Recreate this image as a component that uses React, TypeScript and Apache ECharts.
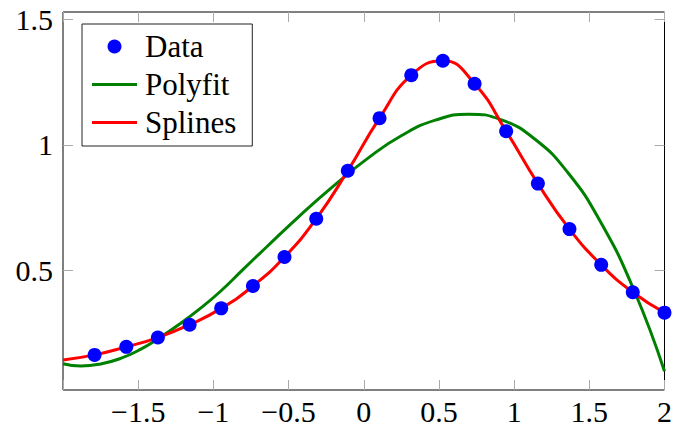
import React, { useEffect, useRef } from "react";
import * as echarts from "echarts";

const dataX = [-1.79, -1.579, -1.369, -1.158, -0.948, -0.737, -0.527, -0.316, -0.106, 0.105, 0.316, 0.526, 0.737, 0.947, 1.158, 1.368, 1.579, 1.789, 2.0];
const dataY = [0.165, 0.197, 0.234, 0.285, 0.35, 0.439, 0.554, 0.706, 0.897, 1.106, 1.277, 1.334, 1.243, 1.054, 0.846, 0.665, 0.523, 0.414, 0.333];

const splineX = [-2.0, -1.79, -1.579, -1.369, -1.158, -0.948, -0.737, -0.527, -0.316, -0.106, 0.105, 0.316, 0.526, 0.737, 0.947, 1.158, 1.368, 1.579, 1.789, 2.0];
const splineY = [0.145, 0.165, 0.197, 0.234, 0.285, 0.35, 0.439, 0.554, 0.706, 0.897, 1.106, 1.277, 1.334, 1.243, 1.054, 0.846, 0.665, 0.523, 0.414, 0.333];

const polyX = [-2.0, -1.882, -1.75, -1.617, -1.485, -1.353, -1.221, -1.089, -0.956, -0.802, -0.648, -0.428, -0.208, 0.035, 0.255, 0.476, 0.696, 0.916, 1.137, 1.357, 1.577, 1.798, 2.0];
const polyY = [0.13, 0.121, 0.129, 0.151, 0.187, 0.235, 0.289, 0.349, 0.416, 0.505, 0.593, 0.717, 0.833, 0.95, 1.038, 1.098, 1.122, 1.099, 1.023, 0.89, 0.691, 0.421, 0.1];

const xTickValues = [-2, -1.5, -1, -0.5, 0, 0.5, 1, 1.5, 2];
const xLabelValues = [-1.5, -1, -0.5, 0, 0.5, 1, 1.5, 2];
const yTickValues = [0.5, 1, 1.5];

const X_MIN = -2;
const X_MAX = 2;
const Y_MIN = 0.0255;
const Y_MAX = 1.528;

const FONT = "Liberation Serif";
const fmt = (v: number) => (v < 0 ? "\u2212" + String(Math.abs(v)) : String(v));
const LINE_ICON = "path://M0,0 L45,0 L45,3 L0,3 Z";

export default function App() {
  const ref = useRef<HTMLDivElement>(null);
  useEffect(() => {
    if (!ref.current) return;
    const chart = echarts.init(ref.current, undefined, { renderer: "svg" });
    const tickStyle = { show: true, inside: true, length: 10, lineStyle: { color: "#aaaaaa", width: 1 } };
    const baseAxis = {
      type: "value",
      axisLine: { show: false, onZero: false },
      splitLine: { show: false },
    };
    chart.setOption({
      animation: false,
      backgroundColor: "#ffffff",
      grid: {
        left: 63,
        right: 8,
        top: 12,
        bottom: 40,
        show: true,
        borderColor: "#000000",
        borderWidth: 1,
        backgroundColor: "transparent",
      },
      legend: {
        left: 82,
        top: 24,
        orient: "vertical",
        backgroundColor: "#ffffff",
        borderColor: "#222222",
        borderWidth: 1,
        borderRadius: 0,
        padding: [7, 16, 8, 10],
        itemWidth: 45,
        itemHeight: 14,
        itemGap: 7,
        textStyle: { fontFamily: FONT, fontSize: 31, color: "#000000", padding: [0, 0, 0, 3] },
        data: [
          { name: "Data", icon: "circle" },
          { name: "Polyfit", icon: LINE_ICON },
          { name: "Splines", icon: LINE_ICON },
        ],
      },
      xAxis: [
        {
          ...baseAxis,
          min: X_MIN,
          max: X_MAX,
          position: "bottom",
          axisTick: { ...tickStyle, customValues: xTickValues },
          axisLabel: {
            customValues: xLabelValues,
            formatter: fmt,
            fontFamily: FONT,
            fontSize: 30,
            color: "#000000",
            margin: 6,
          },
        },
        {
          ...baseAxis,
          min: X_MIN,
          max: X_MAX,
          position: "top",
          axisTick: { ...tickStyle, customValues: xTickValues },
          axisLabel: { show: false },
        },
      ],
      yAxis: [
        {
          ...baseAxis,
          min: Y_MIN,
          max: Y_MAX,
          position: "left",
          axisTick: { ...tickStyle, customValues: yTickValues },
          axisLabel: {
            customValues: yTickValues,
            formatter: fmt,
            fontFamily: FONT,
            fontSize: 30,
            color: "#000000",
            margin: 10,
          },
        },
        {
          ...baseAxis,
          min: Y_MIN,
          max: Y_MAX,
          position: "right",
          axisTick: { ...tickStyle, customValues: yTickValues },
          axisLabel: { show: false },
        },
      ],
      series: [
        {
          name: "Polyfit",
          type: "line",
          xAxisIndex: 0,
          yAxisIndex: 0,
          data: polyX.map((x, i) => [x, polyY[i]]),
          smooth: 0.5,
          symbol: "none",
          lineStyle: { color: "#008000", width: 3 },
          itemStyle: { color: "#008000" },
          z: 2,
        },
        {
          name: "Splines",
          type: "line",
          xAxisIndex: 0,
          yAxisIndex: 0,
          data: splineX.map((x, i) => [x, splineY[i]]),
          smooth: 0.5,
          symbol: "none",
          lineStyle: { color: "#ff0000", width: 3 },
          itemStyle: { color: "#ff0000" },
          z: 3,
        },
        {
          name: "Data",
          type: "scatter",
          xAxisIndex: 0,
          yAxisIndex: 0,
          data: dataX.map((x, i) => [x, dataY[i]]),
          symbol: "circle",
          symbolSize: 14,
          itemStyle: { color: "#0000ff", opacity: 1 },
          clip: false,
          z: 4,
        },
      ],
    });
    return () => chart.dispose();
  }, []);
  return <div ref={ref} style={{ position: "fixed", left: 0, top: 0, width: 675, height: 430 }} />;
}
